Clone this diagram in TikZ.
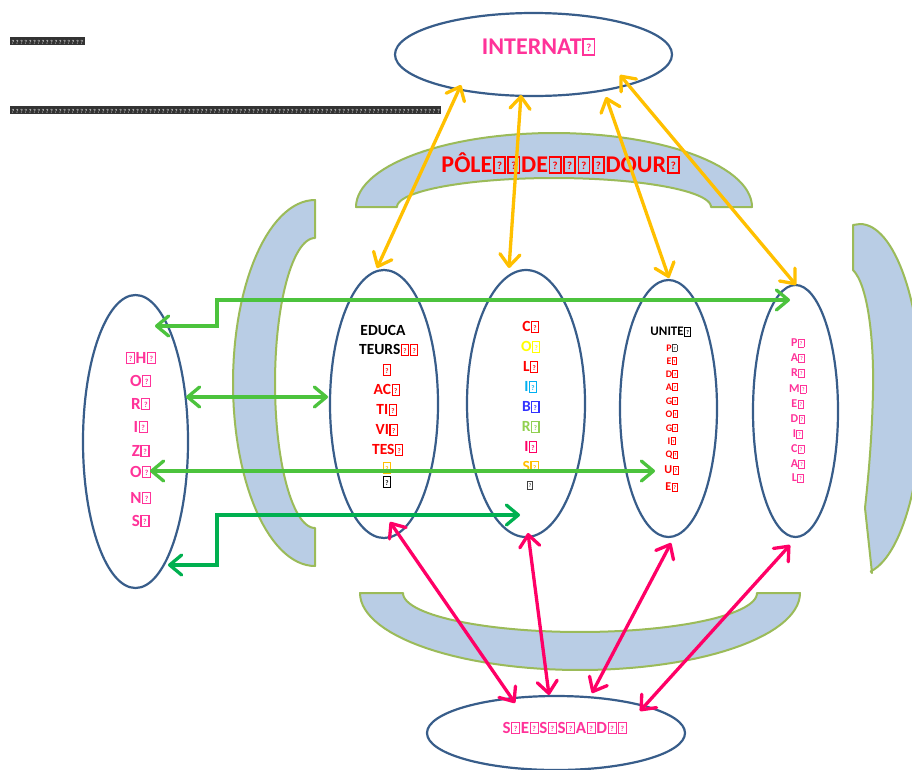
\documentclass[tikz,border=0pt]{standalone}
\usepackage{fontspec}
\setmainfont{Carlito}
\usetikzlibrary{arrows.meta,shapes.geometric}

\definecolor{ellblue}{HTML}{385D8A}
\definecolor{bandfill}{HTML}{B9CDE5}
\definecolor{bandedge}{HTML}{9BBB59}
\definecolor{arrgold}{HTML}{FFC000}
\definecolor{arrgreen}{HTML}{4CC33D}
\definecolor{arrdkgreen}{HTML}{00B050}
\definecolor{arrpink}{HTML}{FF0066}
\definecolor{txtpink}{HTML}{FF3399}
\definecolor{colyellow}{HTML}{FFFF00}
\definecolor{colcyan}{HTML}{00B0F0}
\definecolor{colblue}{HTML}{3333FF}
\definecolor{collgreen}{HTML}{92D050}
\definecolor{colorange}{HTML}{FFC000}
\definecolor{colpink}{HTML}{FF0066}

% box shown for a character the font cannot set
\newcommand\nd{\kern0.03em{\fboxsep=0pt\fboxrule=0.07em\fbox{\makebox[0.4em]{\rule{0pt}{0.6em}\raisebox{0.1em}{\scalebox{0.45}{?}}}}}\kern0.03em}
\newcommand\ndk{\makebox[4.3pt]{\rule{0pt}{7.5pt}\fontsize{6}{6}\selectfont ?}}

\tikzset{
  band/.style={fill=bandfill, draw=bandedge, line width=2pt, line join=round},
  oval/.style={ellipse, draw=ellblue, line width=2.2pt, inner sep=0pt, fill=white},
  link/.style={line width=3.3pt, line cap=round,
    {Straight Barb[length=12pt,width=20pt,round]}-{Straight Barb[length=12pt,width=20pt,round]}},
  ylink/.style={link, draw=arrgold},
  glink/.style={link, draw=arrgreen},
  dglink/.style={link, draw=arrdkgreen},
  plink/.style={link, draw=arrpink},
  lbl/.style={inner sep=0pt, anchor=center, font=\bfseries},
}

\begin{document}
\begin{tikzpicture}[x=1pt,y=-1pt]
\useasboundingbox (0,0) rectangle (912,769);
\clip (0,0) rectangle (912,769);
\fill[white] (0,0) rectangle (912,769);

% header lines of unset characters
\node[fill=black!80, text=white, inner sep=0.6pt, anchor=west] (hdr1) at (10,41) {\foreach \k in {1,...,17}{\ndk}};
\node[fill=black!80, text=white, inner sep=0.6pt, anchor=west] (hdr2) at (10,110) {\foreach \k in {1,...,100}{\ndk}};

% curved bands around the central group
\path[band] plot[domain=180:360, samples=60] ({554+198*cos(\x)},{207+74*sin(\x)})
  -- plot[domain=360:180, samples=60] ({554+157*cos(\x)},{207+29*sin(\x)}) -- cycle;
\path[band] plot[domain=180:0, samples=60] ({580+220*cos(\x)},{593+77*sin(\x)})
  -- plot[domain=0:180, samples=60] ({580+177*cos(\x)},{593+39*sin(\x)}) -- cycle;
\path[band] (315,200) -- plot[domain=270:90, samples=60] ({315+82*cos(\x)},{383+183*sin(\x)})
  -- (315,528) -- plot[domain=90:270, samples=60] ({315+40*cos(\x)},{383+145*sin(\x)}) -- cycle;
\path[band] (853,225) -- (853,270) .. controls (868,285) and (874,340) .. (873,390)
  .. controls (872,440) and (868,480) .. (865,508) -- (872,573)
  -- plot[domain=80:-90, samples=60] ({860+62*cos(\x)},{399+175*sin(\x)}) -- cycle;

\node[font=\fontsize{24}{24}\selectfont\bfseries, text=red, inner sep=0pt] (pole) at (561,163)
  {PÔLE\nd\nd DE\nd\nd\nd\nd DOUR\nd};

% ovals
\node[oval, minimum width=277pt, minimum height=83pt] (internat) at (533.5,54.5) {};
\node[oval, minimum width=105pt, minimum height=293pt] (horizons) at (135.5,441.5) {};
\node[oval, minimum width=108pt, minimum height=268pt] (educ) at (384,404) {};
\node[oval, minimum width=118pt, minimum height=267pt] (colib) at (526,403.5) {};
\node[oval, minimum width=97pt, minimum height=257pt] (unite) at (668.5,408.5) {};
\node[oval, minimum width=85pt, minimum height=252pt] (param) at (795.5,411) {};
\node[oval, minimum width=258pt, minimum height=74pt] (sessad) at (556,733) {};

% labels
\node[lbl, text=txtpink, font=\fontsize{24}{24}\selectfont\bfseries] (t-internat) at (539,47) {INTERNAT\nd};
\node[lbl, text=txtpink, font=\fontsize{17}{17}\selectfont\bfseries] (t-sessad) at (565,728)
  {S\nd E\nd S\nd S\nd A\nd D\nd\nd};

\foreach \t/\y [count=\i] in {{\nd H\nd}/358, {O\nd}/381, {R\nd}/404, {I\nd}/427,
    {Z\nd}/451, {O\nd}/472, {N\nd}/498, {S\nd}/521}
  \node[lbl, text=txtpink, font=\fontsize{17}{17}\selectfont\bfseries] (hz\i) at (141,\y) {\t};

\foreach \t/\x/\y [count=\i] in {{EDUCA}/383/330,
    {TEURS\textcolor{red}{\nd\nd}}/389/350,
    {\textcolor{red}{\nd}}/387/370,
    {\textcolor{red}{AC\nd}}/387/390,
    {\textcolor{red}{TI\nd}}/387/410,
    {\textcolor{red}{VI\nd}}/387/430,
    {\textcolor{red}{TES\nd}}/388/450,
    {\textcolor{colorange}{\nd}}/387/468,
    {\nd}/387/482}
  \node[lbl, font=\fontsize{15.5}{15.5}\selectfont\bfseries] (ed\i) at (\x,\y) {\t};

\foreach \l/\c/\y [count=\i] in {C/red/327, O/colyellow/347, L/red/367, I/colcyan/387,
    B/colblue/407, R/collgreen/427, I/colpink/447, S/colorange/467}
  \node[lbl, text=\c, font=\fontsize{15.5}{15.5}\selectfont\bfseries] (co\i) at (531,\y) {\l\nd};
\node[lbl, text=black!75, font=\fontsize{12}{12}\selectfont\bfseries] (co9) at (530,485) {\nd};

\node[lbl, font=\fontsize{13}{13}\selectfont\bfseries] (un0) at (671,332) {UNITE\nd};
\node[lbl, text=red, font=\fontsize{10}{10}\selectfont\bfseries] (un1) at (672,348) {P\textcolor{black!75}{\nd}};
\foreach \l/\y [count=\i from 2] in {E/361, D/374, A/387, G/401, O/414, G/428, I/441, Q/455}
  \node[lbl, text=red, font=\fontsize{10}{10}\selectfont\bfseries] (un\i) at (672,\y) {\l\nd};
\node[lbl, text=red, font=\fontsize{12}{12}\selectfont\bfseries] (un10) at (672,470) {U\nd};
\node[lbl, text=red, font=\fontsize{12}{12}\selectfont\bfseries] (un11) at (672,487) {E\nd};

\foreach \l/\y [count=\i] in {P/343, A/358, R/373, M/389, E/404, D/419, I/434, C/449, A/464, L/478}
  \node[lbl, text=txtpink, font=\fontsize{12}{12}\selectfont\bfseries] (pa\i) at (798,\y) {\l\nd};

% connector ends
\coordinate (ya1) at (461,85);  \coordinate (yb1) at (377,268);
\coordinate (ya2) at (521,95);  \coordinate (yb2) at (509,268);
\coordinate (ya3) at (606,97);  \coordinate (yb3) at (669,278);
\coordinate (ya4) at (620,75);  \coordinate (yb4) at (796,285);
\coordinate (ma1) at (390,522); \coordinate (mb1) at (515,703);
\coordinate (ma2) at (528,533); \coordinate (mb2) at (549,695);
\coordinate (ma3) at (671,543); \coordinate (mb3) at (592,693);
\coordinate (ma4) at (790,545); \coordinate (mb4) at (640,711);
\coordinate (ga1) at (155,326); \coordinate (gb1) at (790,300);
\coordinate (ga2) at (186,397); \coordinate (gb2) at (328,397);
\coordinate (ga3) at (150,471); \coordinate (gb3) at (655,471);
\coordinate (ga4) at (168,565); \coordinate (gb4) at (520,515);

% internat links
\foreach \i in {1,...,4} \draw[ylink] (ya\i) -- (yb\i);
% sessad links
\foreach \i in {1,...,4} \draw[plink] (ma\i) -- (mb\i);
% horizons links
\draw[glink] (ga1) -- ++(62,0) |- (gb1);
\draw[glink] (ga2) -- (gb2);
\draw[glink] (ga3) -- (gb3);
\draw[dglink] (ga4) -- ++(49,0) |- (gb4);
\end{tikzpicture}
\end{document}
